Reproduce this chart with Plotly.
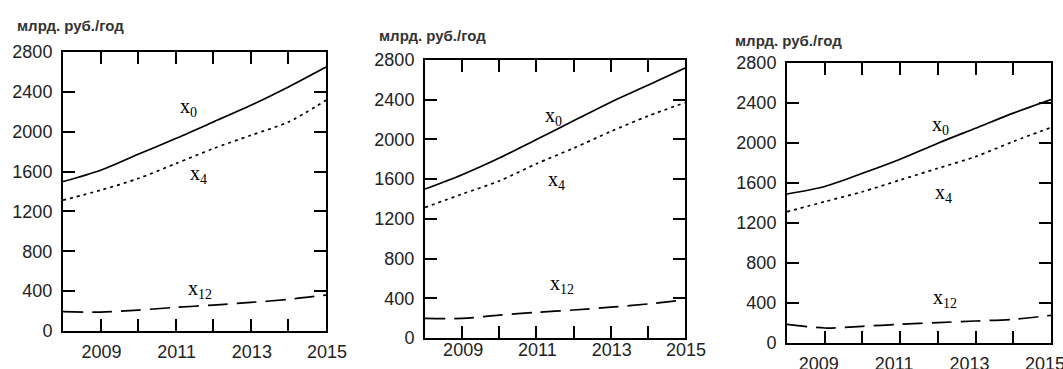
import plotly.graph_objects as go

# Years on the horizontal axis
years = [2008, 2009, 2010, 2011, 2012, 2013, 2014, 2015]

# Scenario 1 (billion rub./year)
s1_x0 = [1500, 1614, 1774, 1931, 2098, 2265, 2449, 2649]
s1_x4 = [1313, 1413, 1530, 1680, 1831, 1964, 2098, 2315]
s1_x12 = [194, 190, 210, 237, 260, 287, 317, 361]

# Scenario 2
s2_x0 = [1500, 1645, 1813, 2000, 2187, 2375, 2545, 2720]
s2_x4 = [1315, 1450, 1582, 1755, 1912, 2080, 2235, 2370]
s2_x12 = [197, 197, 231, 258, 282, 310, 343, 384]

# Scenario 3
s3_x0 = [1490, 1565, 1697, 1838, 1998, 2148, 2299, 2435]
s3_x4 = [1313, 1413, 1513, 1630, 1747, 1864, 2015, 2155]
s3_x12 = [187, 150, 167, 187, 204, 220, 237, 277]

x_ticktext = ["", "2009", "", "2011", "", "2013", "", "2015"]
y_ticks = [0, 400, 800, 1200, 1600, 2000, 2400, 2800]
unit_label = "млрд. руб./год"

W, H = 1063, 369

# Panel frames in pixels: (left, right, top, bottom)
frames = [(63, 326, 52, 331), (425, 685, 60, 338), (787, 1051, 63, 343)]
# Gap between the year labels and the bottom axis, and their sideways shift
x_standoff = [3, -6, 3]
x_shift = [1, 1, -6]
# Series label anchors per panel in data coordinates
label_pos = [
    [(2011.35, 2240), (2011.6, 1566), (2011.65, 412)],
    [(2011.45, 2226), (2011.53, 1591), (2011.69, 534)],
    [(2012.08, 2180), (2012.14, 1500), (2012.2, 450)],
]
# Unit caption positions (left x, centre y) in pixels
unit_pos = [(15, 25), (377, 36), (733, 40)]

panels = [
    (s1_x0, s1_x4, s1_x12),
    (s2_x0, s2_x4, s2_x12),
    (s3_x0, s3_x4, s3_x12),
]

fig = go.Figure()
tick_font = dict(family="Liberation Sans, Arial, sans-serif", size=18, color="#222")
annotations = []

for i, (x0, x4, x12) in enumerate(panels):
    n = "" if i == 0 else str(i + 1)
    xa, ya = "x" + n, "y" + n
    styles = [(x0, "solid"), (x4, "3px,4px"), (x12, "20px,9px")]
    for vals, dash in styles:
        fig.add_trace(go.Scatter(
            x=years, y=vals, xaxis=xa, yaxis=ya, mode="lines",
            line=dict(color="black", width=1.7, dash=dash,
                      shape="spline", smoothing=0.8),
            showlegend=False, hoverinfo="skip", cliponaxis=True,
        ))
    l, r, t, b = frames[i]
    axis_common = dict(
        showline=True, linecolor="black", linewidth=2, mirror="allticks",
        ticks="inside", ticklen=12, tickwidth=1.6, tickcolor="black",
        showgrid=False, zeroline=False, tickfont=tick_font,
        automargin=False, ticklabeloverflow="allow",
    )
    fig.update_layout(**{
        "xaxis" + n: dict(
            domain=[l / W, r / W], anchor=ya, range=[2008, 2015],
            tickmode="array", tickvals=years, ticktext=x_ticktext,
            ticklabelstandoff=x_standoff[i], ticklabelshift=x_shift[i],
            **axis_common,
        ),
        "yaxis" + n: dict(
            domain=[1 - b / H, 1 - t / H], anchor=xa, range=[0, 2800],
            tickmode="array", tickvals=y_ticks, ticklabelstandoff=5,
            **axis_common,
        ),
    })
    for (lx, ly), sub in zip(label_pos[i], ["0", "4", "12"]):
        annotations.append(dict(
            x=lx, y=ly, xref=xa, yref=ya, showarrow=False,
            text="x<sub>" + sub + "</sub>",
            font=dict(family="Liberation Serif, Times New Roman, serif",
                      size=20, color="black"),
        ))
    ux, uy = unit_pos[i]
    annotations.append(dict(
        x=ux / W, y=1 - uy / H, xref="paper", yref="paper",
        xanchor="left", yanchor="middle", showarrow=False,
        text="<b>" + unit_label + "</b>",
        font=dict(family="Liberation Sans, Arial, sans-serif", size=15,
                  color="#333"),
    ))

fig.update_layout(
    width=W, height=H, margin=dict(l=0, r=0, t=0, b=0, autoexpand=False),
    paper_bgcolor="white", plot_bgcolor="white",
    annotations=annotations,
)

fig.write_html("out.html")
